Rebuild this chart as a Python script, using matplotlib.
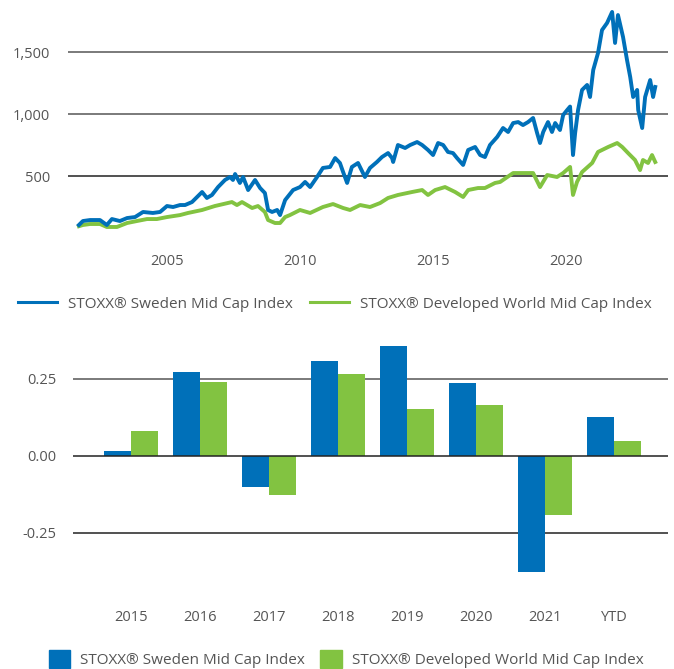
import matplotlib
matplotlib.use("Agg")
import matplotlib.pyplot as plt
from matplotlib.lines import Line2D
from matplotlib.patches import Patch

plt.rcParams['font.family'] = ['Open Sans', 'DejaVu Sans']

BLUE = '#0070b9'
GREEN = '#82c341'
TXT = '#555555'

# index levels (decimal year, level)
sweden_dates = [2001.69, 2001.84, 2002.11, 2002.48, 2002.74, 2002.93, 2003.23, 2003.50, 2003.80, 2004.10,
                2004.47, 2004.74, 2005.00, 2005.23, 2005.49, 2005.68, 2005.94, 2006.32, 2006.50, 2006.69,
                2006.92, 2007.18, 2007.37, 2007.48, 2007.56, 2007.74, 2007.86, 2008.05, 2008.31, 2008.50,
                2008.68, 2008.80, 2008.95, 2009.14, 2009.25, 2009.44, 2009.74, 2010.00, 2010.19, 2010.38,
                2010.64, 2010.86, 2011.13, 2011.32, 2011.50, 2011.62, 2011.77, 2011.95, 2012.18, 2012.44,
                2012.63, 2012.89, 2013.08, 2013.31, 2013.46, 2013.50, 2013.68, 2013.95, 2014.14, 2014.40,
                2014.59, 2014.81, 2015.00, 2015.19, 2015.38, 2015.56, 2015.75, 2015.90, 2016.13, 2016.32,
                2016.58, 2016.77, 2016.95, 2017.14, 2017.41, 2017.63, 2017.82, 2018.01, 2018.20, 2018.38,
                2018.57, 2018.76, 2018.91, 2019.02, 2019.14, 2019.32, 2019.47, 2019.59, 2019.77, 2019.89,
                2020.04, 2020.15, 2020.26, 2020.34, 2020.45, 2020.60, 2020.79, 2020.90, 2021.02, 2021.20,
                2021.35, 2021.54, 2021.73, 2021.84, 2021.95, 2022.14, 2022.29, 2022.41, 2022.52, 2022.67,
                2022.71, 2022.86, 2022.97, 2023.16, 2023.27, 2023.35]
sweden_level = [105, 137, 145, 145, 105, 153, 137, 161, 169, 210,
                202, 210, 258, 250, 266, 266, 290, 371, 323, 347,
                411, 468, 492, 468, 516, 444, 492, 387, 468, 403,
                363, 226, 210, 226, 185, 306, 387, 411, 452, 411,
                492, 565, 573, 645, 605, 532, 444, 573, 605, 492,
                565, 613, 653, 685, 645, 613, 750, 726, 750, 774,
                750, 710, 669, 766, 750, 694, 685, 645, 589, 710,
                734, 669, 653, 750, 815, 887, 855, 927, 935, 911,
                935, 968, 847, 766, 855, 935, 855, 927, 871, 992,
                1032, 1060, 669, 847, 1032, 1194, 1234, 1137, 1355, 1492,
                1677, 1734, 1823, 1573, 1798, 1621, 1435, 1298, 1137, 1194,
                1032, 887, 1137, 1274, 1137, 1218]

world_dates = [2001.69, 2001.84, 2002.11, 2002.48, 2002.74, 2003.12, 2003.50, 2003.87, 2004.25, 2004.62,
               2005.00, 2005.49, 2005.79, 2006.32, 2006.80, 2007.44, 2007.63, 2007.82, 2008.20, 2008.42,
               2008.68, 2008.80, 2009.06, 2009.25, 2009.44, 2009.62, 2010.00, 2010.38, 2010.86, 2011.24,
               2011.62, 2011.88, 2012.26, 2012.63, 2013.01, 2013.31, 2013.68, 2014.21, 2014.59, 2014.81,
               2015.08, 2015.45, 2015.83, 2016.13, 2016.32, 2016.69, 2016.95, 2017.33, 2017.52, 2018.01,
               2018.38, 2018.76, 2019.02, 2019.29, 2019.66, 2019.89, 2020.15, 2020.26, 2020.41, 2020.60,
               2020.98, 2021.20, 2021.58, 2021.92, 2022.11, 2022.33, 2022.59, 2022.78, 2022.89, 2023.08,
               2023.23, 2023.35]
world_level = [95, 105, 113, 113, 89, 89, 121, 137, 153, 153,
               169, 185, 202, 226, 258, 290, 266, 290, 242, 258,
               210, 145, 121, 121, 169, 185, 226, 202, 250, 274,
               242, 226, 266, 250, 282, 323, 347, 371, 387, 347,
               387, 411, 371, 331, 387, 403, 403, 444, 452, 524,
               524, 524, 411, 508, 492, 524, 573, 347, 452, 532,
               605, 694, 734, 766, 734, 685, 629, 548, 629, 605,
               669, 613]

# yearly returns
years = ['2015', '2016', '2017', '2018', '2019', '2020', '2021', 'YTD']
sweden_ret = [0.015, 0.271, -0.100, 0.307, 0.356, 0.236, -0.377, 0.126]
world_ret = [0.080, 0.239, -0.128, 0.265, 0.152, 0.165, -0.192, 0.048]

names = ['STOXX® Sweden Mid Cap Index', 'STOXX® Developed World Mid Cap Index']

fig = plt.figure(figsize=(6.74, 6.69), dpi=100)

# ---- line chart ----
ax1 = fig.add_axes([68/674, 1 - 240/669, 600/674, 235/669])
ax1.plot(world_dates, world_level, color=GREEN, lw=2.8, solid_joinstyle='round')
ax1.plot(sweden_dates, sweden_level, color=BLUE, lw=2.8, solid_joinstyle='round')
ax1.set_xlim(2001.28, 2023.83)
ax1.set_ylim(-16, 1879)
ax1.set_yticks([500, 1000, 1500])
ax1.set_yticklabels(['500', '1,000', '1,500'])
ax1.set_xticks([2005, 2010, 2015, 2020])
ax1.axhline(1500, color='#707070', lw=1.3, zorder=0)
ax1.axhline(1000, color='#707070', lw=1.3, zorder=0)
ax1.axhline(500, color='#222222', lw=1.1, zorder=0)
for s in ax1.spines.values():
    s.set_visible(False)
ax1.tick_params(axis='both', length=0, labelsize=10.5, labelcolor=TXT)
ax1.tick_params(axis='y', pad=13)
ax1.tick_params(axis='x', pad=10)

h1 = [Line2D([], [], color=BLUE, lw=2.2), Line2D([], [], color=GREEN, lw=2.2)]
fig.legend(h1, names, loc='center', bbox_to_anchor=(335/674, 1 - 304/669), ncol=2,
           frameon=False, fontsize=11, labelcolor=TXT, handlelength=2.55,
           handletextpad=0.72, columnspacing=1.1)

# ---- bar chart ----
ax2 = fig.add_axes([73/674, 1 - 585/669, 595/674, 245/669])
x = range(len(years))
w = 0.39
ax2.bar([i - w/2 for i in x], sweden_ret, width=w, color=BLUE, zorder=2)
ax2.bar([i + w/2 for i in x], world_ret, width=w, color=GREEN, zorder=2)
ax2.set_xlim(-0.84, 7.78)
ax2.set_ylim(-0.420, 0.376)
ax2.set_xticks(list(x))
ax2.set_xticklabels(years)
ax2.set_yticks([-0.25, 0, 0.25])
ax2.set_yticklabels(['-0.25', '0.00', '0.25'])
ax2.axhline(0.25, color='#707070', lw=1.3, zorder=0)
ax2.axhline(0, color='#222222', lw=1.1, zorder=3)
ax2.axhline(-0.25, color='#222222', lw=1.1, zorder=0)
for s in ax2.spines.values():
    s.set_visible(False)
ax2.tick_params(axis='both', length=0, labelsize=10.5, labelcolor=TXT)
ax2.tick_params(axis='y', pad=12)
ax2.tick_params(axis='x', pad=18)

h2 = [Patch(color=BLUE), Patch(color=GREEN)]
fig.legend(h2, names, loc='center', bbox_to_anchor=(346/674, 1 - 659/669), ncol=2,
           frameon=False, fontsize=11, labelcolor=TXT, handlelength=1.4,
           handleheight=1.4, handletextpad=0.65, columnspacing=1.0)

fig.savefig('out.png', dpi=100)
